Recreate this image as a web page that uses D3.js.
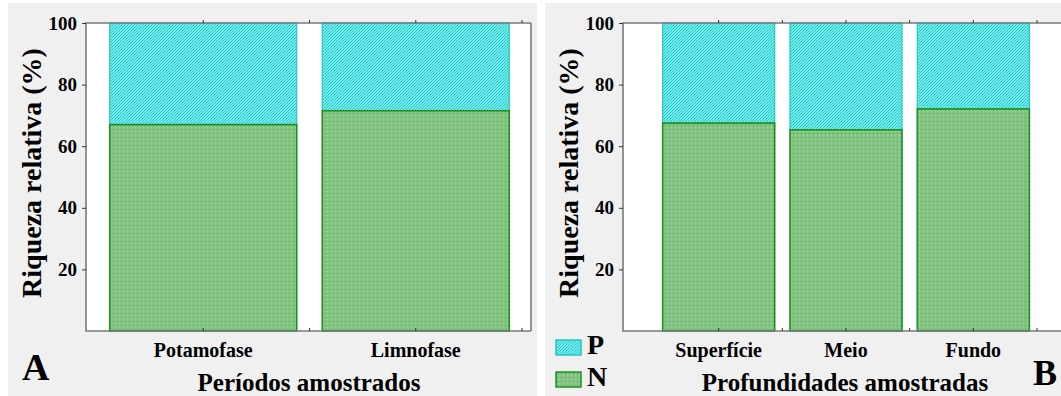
<!DOCTYPE html>
<html>
<head>
<meta charset="utf-8">
<script src="https://cdn.jsdelivr.net/npm/d3@7"></script>
<style>
  html, body { margin: 0; padding: 0; background: #ffffff; }
  svg { display: block; }
  text { font-family: "Liberation Serif", "Times New Roman", serif; font-weight: bold; fill: #000; }
</style>
</head>
<body>
<svg id="chart" width="1061" height="396"></svg>
<script>
// Relative richness (%) of N and P taxa
const periods = ["Potamofase", "Limnofase"];
const periodN = [67.0, 71.5];
const depths = ["Superfície", "Meio", "Fundo"];
const depthN = [67.5, 65.3, 72.1];
const yTicks = [20, 40, 60, 80, 100];
const legendItems = ["P", "N"];

const svg = d3.select("#chart");
const defs = svg.append("defs");

// Cyan diagonal hatch for P
const pPat = defs.append("pattern").attr("id", "patP")
  .attr("patternUnits", "userSpaceOnUse").attr("width", 3).attr("height", 3);
pPat.append("rect").attr("width", 3).attr("height", 3).attr("fill", "#ffffff");
pPat.append("path").attr("d", "M-1,1 L1,-1 M0,3 L3,0 M2,4 L4,2")
  .attr("stroke", "#0ed2d2").attr("stroke-width", 1.5);

// Dotted green fill for N
const nPat = defs.append("pattern").attr("id", "patN")
  .attr("patternUnits", "userSpaceOnUse").attr("width", 4).attr("height", 4);
nPat.append("rect").attr("width", 4).attr("height", 4).attr("fill", "#82c482");
nPat.append("rect").attr("x", 1).attr("y", 1).attr("width", 1).attr("height", 1).attr("fill", "#5ca85c");
nPat.append("rect").attr("x", 3).attr("y", 3).attr("width", 1).attr("height", 1).attr("fill", "#a6d8a6");

const styles = {
  P: { fill: "url(#patP)", stroke: "#22c6c6" },
  N: { fill: "url(#patN)", stroke: "#1f8f1f" }
};

function panel(cfg) {
  const g = svg.append("g");
  // panel background
  g.append("rect").attr("x", cfg.bg[0]).attr("y", cfg.bg[1])
    .attr("width", cfg.bg[2]).attr("height", cfg.bg[3]).attr("fill", "#f0f0f0");

  const x = d3.scaleBand().domain(cfg.cats).range(cfg.band)
    .paddingInner(0.12).paddingOuter(0.06);
  const y = d3.scaleLinear().domain([0, 100]).range([cfg.bottom, cfg.top]);

  g.append("rect").attr("x", cfg.left).attr("y", cfg.top)
    .attr("width", cfg.right - cfg.left).attr("height", cfg.bottom - cfg.top)
    .attr("fill", "#ffffff");

  const rows = cfg.cats.map((c, i) => ({ c, n: cfg.vals[i] }));
  // P segment (top), N segment (bottom)
  g.selectAll(".barP").data(rows).join("rect")
    .attr("x", d => x(d.c)).attr("width", x.bandwidth())
    .attr("y", y(100)).attr("height", d => y(d.n) - y(100))
    .attr("fill", styles.P.fill).attr("stroke", styles.P.stroke).attr("stroke-width", 1.2);
  g.selectAll(".barN").data(rows).join("rect")
    .attr("x", d => x(d.c)).attr("width", x.bandwidth())
    .attr("y", d => y(d.n)).attr("height", d => y(0) - y(d.n))
    .attr("fill", styles.N.fill).attr("stroke", styles.N.stroke).attr("stroke-width", 1.6);

  // frame
  const axisColor = "#7a7a7a";
  g.append("path")
    .attr("d", `M${cfg.right},${cfg.top} H${cfg.left} V${cfg.bottom} H${cfg.right}`)
    .attr("fill", "none").attr("stroke", axisColor).attr("stroke-width", 1.6);
  if (cfg.rightSpine) {
    g.append("line").attr("x1", cfg.right).attr("x2", cfg.right)
      .attr("y1", cfg.top).attr("y2", cfg.bottom)
      .attr("stroke", axisColor).attr("stroke-width", 1.6);
  }

  // y axis
  const yAxis = d3.axisLeft(y).tickValues(yTicks).tickSize(4).tickPadding(5);
  const ya = g.append("g").attr("transform", `translate(${cfg.left},0)`).call(yAxis);
  ya.select(".domain").remove();
  ya.selectAll(".tick line").attr("stroke", "#333");
  ya.selectAll(".tick text").attr("font-size", 19).attr("fill", "#000")
    .attr("font-family", "Liberation Serif").attr("font-weight", "bold");

  // x axis: labels at band centres
  const xa = d3.axisBottom(x).tickSize(0).tickPadding(12);
  const xg = g.append("g").attr("transform", `translate(0,${cfg.bottom})`).call(xa);
  xg.select(".domain").remove();
  xg.selectAll(".tick text").attr("font-size", 20).attr("fill", "#000")
    .attr("font-family", "Liberation Serif").attr("font-weight", "bold");

  // small tick marks at band centres and band boundaries, top and bottom
  const tickXs = cfg.cats.map(c => x(c) + x.bandwidth() / 2)
    .concat(cfg.cats.slice(1).map(c => x(c) - x.step() * x.paddingInner() / 2))
    .concat([cfg.band[1]]);
  tickXs.forEach(tx => {
    g.append("line").attr("x1", tx).attr("x2", tx)
      .attr("y1", cfg.top).attr("y2", cfg.top - 3).attr("stroke", "#333").attr("stroke-width", 1);
    g.append("line").attr("x1", tx).attr("x2", tx)
      .attr("y1", cfg.bottom).attr("y2", cfg.bottom - 3).attr("stroke", "#333").attr("stroke-width", 1);
  });

  // titles
  g.append("text").attr("transform", `translate(${cfg.yTitleX},${(cfg.top + cfg.bottom) / 2 - 4}) rotate(-90)`)
    .attr("text-anchor", "middle").attr("font-size", 28).text("Riqueza relativa (%)");
  g.append("text").attr("x", cfg.xTitleX).attr("y", 391)
    .attr("text-anchor", "middle").attr("font-size", 25).text(cfg.xTitle);
  g.append("text").attr("x", cfg.letter[0]).attr("y", cfg.letter[1])
    .attr("font-size", cfg.letter[3]).text(cfg.letter[2]);
  return g;
}

panel({
  bg: [8, 3, 529, 393], left: 86, right: 531, top: 23, bottom: 331, band: [97, 522],
  cats: periods, vals: periodN, yTitleX: 41, xTitle: "Períodos amostrados", xTitleX: 309,
  letter: [22, 380, "A", 38], rightSpine: true
});
panel({
  bg: [545, 3, 516, 393], left: 623, right: 1068, top: 23, bottom: 331, band: [655, 1037],
  cats: depths, vals: depthN, yTitleX: 578, xTitle: "Profundidades amostradas", xTitleX: 845,
  letter: [1033, 385, "B", 36], rightSpine: false
});

// legend
const leg = svg.append("g").attr("transform", "translate(556,340)");
const li = leg.selectAll("g").data(legendItems).join("g")
  .attr("transform", (d, i) => `translate(0,${i * 32})`);
li.append("rect").attr("width", 25).attr("height", 15)
  .attr("fill", d => styles[d].fill).attr("stroke", d => styles[d].stroke).attr("stroke-width", 1.5);
li.append("text").attr("x", 31).attr("y", 14).attr("font-size", 28).text(d => d);
</script>
</body>
</html>
